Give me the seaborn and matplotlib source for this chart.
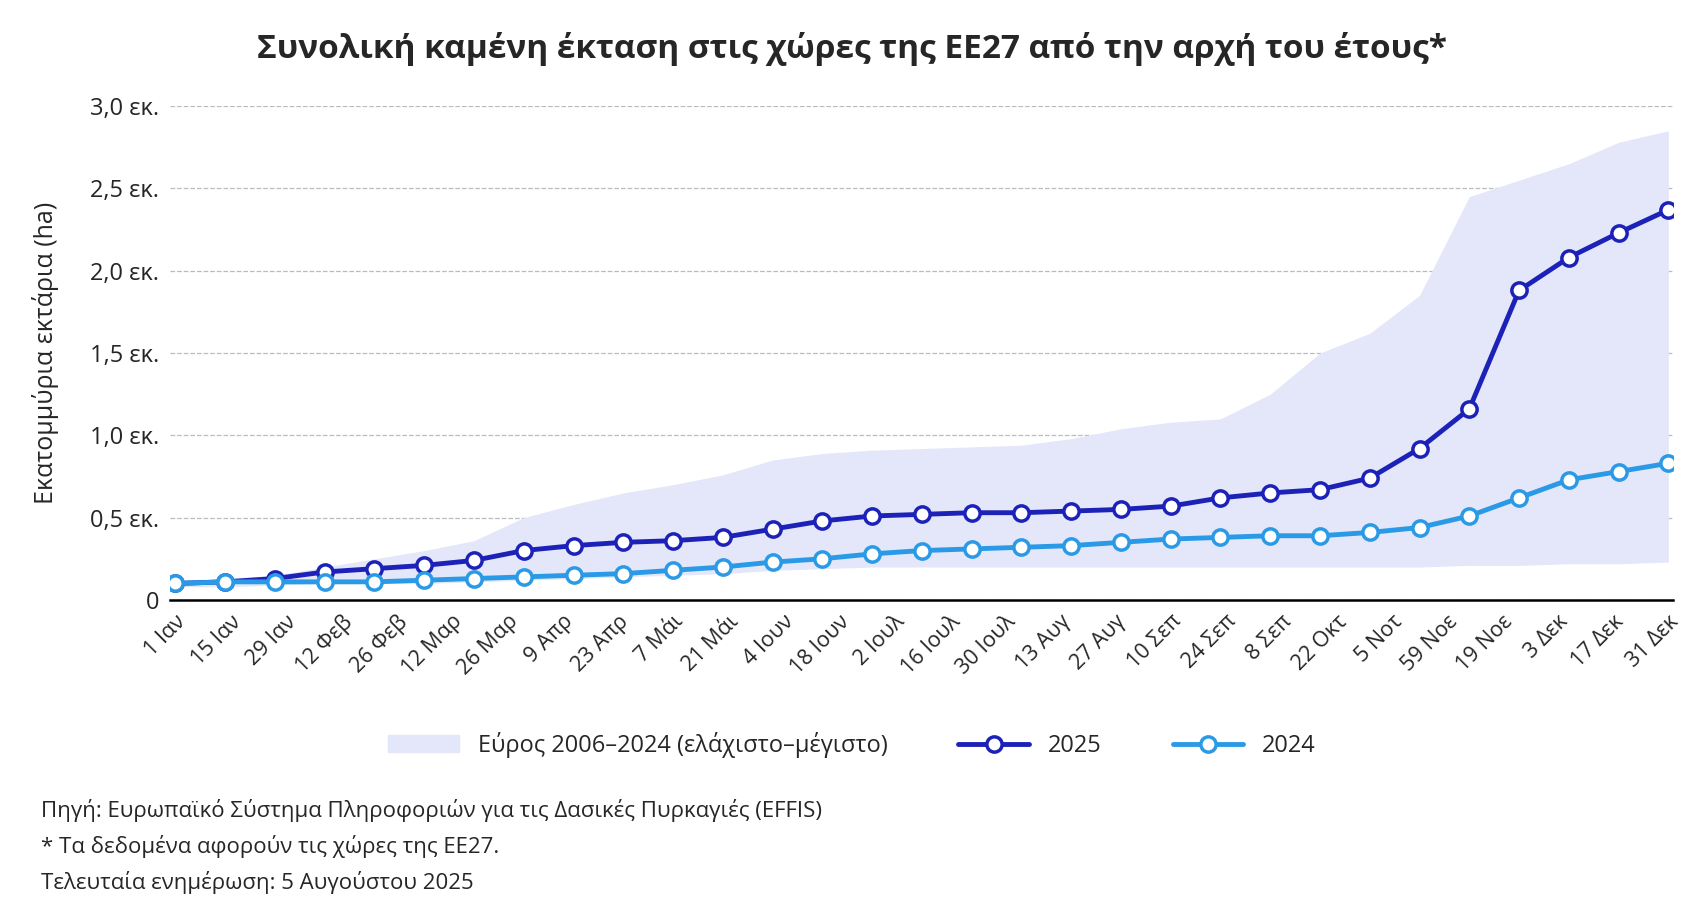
import numpy as np
import pandas as pd
import seaborn as sns
import matplotlib.pyplot as plt
from matplotlib.lines import Line2D
from matplotlib.patches import Patch
sns.set_style("white")
plt.rcParams['font.family'] = ['Open Sans', 'DejaVu Sans']

tick_labels = ["1 Ιαν", "15 Ιαν", "29 Ιαν", "12 Φεβ", "26 Φεβ", "12 Μαρ", "26 Μαρ", "9 Απρ",
               "23 Απρ", "7 Μάι", "21 Μάι", "4 Ιουν", "18 Ιουν", "2 Ιουλ", "16 Ιουλ", "30 Ιουλ",
               "13 Αυγ", "27 Αυγ", "10 Σεπ", "24 Σεπ", "8 Σεπ", "22 Οκτ", "5 Νοτ", "59 Νοε",
               "19 Νοε", "3 Δεκ", "17 Δεκ", "31 Δεκ"]
y2025 = [0.10, 0.11, 0.13, 0.17, 0.19, 0.21, 0.24, 0.30, 0.33, 0.35, 0.36, 0.38, 0.43, 0.48, 0.51, 0.52,
         0.53, 0.53, 0.54, 0.55, 0.57, 0.62, 0.65, 0.67, 0.74, 0.92, 1.16, 1.88, 2.08, 2.23, 2.37]
y2024 = [0.10, 0.11, 0.11, 0.11, 0.11, 0.12, 0.13, 0.14, 0.15, 0.16, 0.18, 0.20, 0.23, 0.25, 0.28, 0.30,
         0.31, 0.32, 0.33, 0.35, 0.37, 0.38, 0.39, 0.39, 0.41, 0.44, 0.51, 0.62, 0.73, 0.78, 0.83]
band_max = [0.12, 0.13, 0.15, 0.20, 0.25, 0.30, 0.36, 0.50, 0.58, 0.65, 0.70, 0.76, 0.85, 0.89, 0.91, 0.92,
            0.93, 0.94, 0.98, 1.04, 1.08, 1.10, 1.25, 1.50, 1.62, 1.85, 2.45, 2.55, 2.65, 2.78, 2.85]
band_min = [0.08, 0.08, 0.09, 0.10, 0.10, 0.10, 0.11, 0.12, 0.13, 0.14, 0.15, 0.16, 0.18, 0.19, 0.20, 0.20,
            0.20, 0.20, 0.20, 0.20, 0.20, 0.20, 0.20, 0.20, 0.20, 0.20, 0.21, 0.21, 0.22, 0.22, 0.23]

c25, c24, cband = "#1c22b8", "#2a9ae6", "#e4e6fa"
x = np.arange(len(y2025))
df = pd.DataFrame({"x": np.concatenate([x, x]), "y": y2025 + y2024,
                   "series": ["2025"] * len(x) + ["2024"] * len(x)})

fig, ax = plt.subplots(figsize=(17.04, 9.23), dpi=100)
fig.subplots_adjust(left=0.1, right=0.982, top=0.885, bottom=0.35)

ax.fill_between(x, band_min, band_max, color=cband, lw=0)
sns.lineplot(data=df, x="x", y="y", hue="series", hue_order=["2025", "2024"],
             palette={"2025": c25, "2024": c24}, lw=3.5, marker="o", markersize=11,
             markerfacecolor="white", markeredgewidth=2.5, legend=False, ax=ax)
for line, c in zip(ax.get_lines()[:2], [c25, c24]):
    line.set_markeredgecolor(c)

ax.set_ylim(0, 3.0)
ax.set_xlim(-0.1, 30.1)
ax.set_yticks([0, 0.5, 1.0, 1.5, 2.0, 2.5, 3.0])
ax.set_yticklabels(["0", "0,5 εκ.", "1,0 εκ.", "1,5 εκ.", "2,0 εκ.", "2,5 εκ.", "3,0 εκ."], fontsize=17)
ax.yaxis.grid(True, ls="--", color="#bbbbbb", lw=0.9)
ax.set_xticks(np.linspace(0, 30, len(tick_labels)))
ax.set_xticklabels(tick_labels, rotation=45, ha="right", rotation_mode="anchor", fontsize=15.5)
ax.tick_params(axis="both", length=0, pad=8)
for s in ["top", "right", "left"]:
    ax.spines[s].set_visible(False)
ax.spines["bottom"].set_color("black")
ax.spines["bottom"].set_linewidth(1.8)
ax.set_xlabel("")
ax.set_ylabel("Εκατομμύρια εκτάρια (ha)", fontsize=18, labelpad=22)

handles = [Patch(color=cband),
           Line2D([], [], color=c25, lw=3.5, marker="o", markersize=11, markerfacecolor="white",
                  markeredgecolor=c25, markeredgewidth=2.5),
           Line2D([], [], color=c24, lw=3.5, marker="o", markersize=11, markerfacecolor="white",
                  markeredgecolor=c24, markeredgewidth=2.5)]
fig.legend(handles, ["Εύρος 2006–2024 (ελάχιστο–μέγιστο)", "2025", "2024"], loc="center",
           bbox_to_anchor=(0.5, 0.193), ncol=3, frameon=False, fontsize=17,
           handlelength=3, columnspacing=3)

fig.suptitle("Συνολική καμένη έκταση στις χώρες της ΕΕ27 από την αρχή του έτους*",
             fontsize=24, fontweight="bold", y=0.965)
fig.text(0.024, 0.115, "Πηγή: Ευρωπαϊκό Σύστημα Πληροφοριών για τις Δασικές Πυρκαγιές (EFFIS)", fontsize=16)
fig.text(0.024, 0.076, "* Τα δεδομένα αφορούν τις χώρες της ΕΕ27.", fontsize=16)
fig.text(0.024, 0.037, "Τελευταία ενημέρωση: 5 Αυγούστου 2025", fontsize=16)

fig.savefig("out.png", dpi=100)
